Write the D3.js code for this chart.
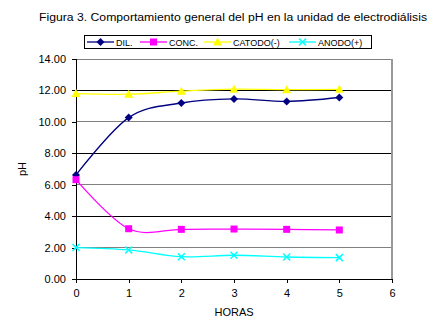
<!DOCTYPE html>
<html><head><meta charset="utf-8">
<script src="https://cdn.jsdelivr.net/npm/d3@7"></script>
<style>body{margin:0;background:#fff}svg{display:block;font-family:"Liberation Sans",Arial,sans-serif}</style>
</head><body><svg id="c" width="435" height="318"></svg>
<script>
const horas = [0, 1, 2, 3, 4, 5];
const dil = [6.62, 10.27, 11.2, 11.46, 11.3, 11.55];
const conc = [6.32, 3.2, 3.16, 3.18, 3.16, 3.12];
const catodo = [11.8, 11.76, 11.95, 12.08, 12.05, 12.07];
const anodo = [2.0, 1.85, 1.42, 1.51, 1.4, 1.36];
const xTicks = [0, 1, 2, 3, 4, 5, 6];
const yTicks = [0, 2, 4, 6, 8, 10, 12, 14];
const seriesNames = ["DIL.", "CONC.", "CATODO(-)", "ANODO(+)"];
const title = "Figura 3. Comportamiento general del pH en la unidad de electrodiálisis";

const series = [
  {name: seriesNames[0], values: dil, color: "#000080", marker: "diamond"},
  {name: seriesNames[1], values: conc, color: "#FF00FF", marker: "square"},
  {name: seriesNames[2], values: catodo, color: "#FFFF00", marker: "triangle"},
  {name: seriesNames[3], values: anodo, color: "#00FFFF", marker: "x"}
];

const svg = d3.select("#c");
const L = 76, R = 392, T = 59, B = 279;
const x = d3.scaleLinear().domain([0, 6]).range([L, R]);
const y = d3.scaleLinear().domain([0, 14]).range([B, T]);

svg.append("text").attr("x", 233).attr("y", 21).attr("text-anchor", "middle")
  .attr("font-size", 10).attr("textLength", 388).attr("lengthAdjust", "spacingAndGlyphs").text(title);

// grid
svg.append("g").selectAll("line").data(yTicks.filter(d => d > 0)).join("line")
  .attr("x1", L).attr("x2", R).attr("y1", d => y(d)).attr("y2", d => y(d))
  .attr("stroke", d => (d % 4 === 0) ? "#000" : "#808080").attr("stroke-width", 1)
  .attr("shape-rendering", "crispEdges");
// right border
svg.append("line").attr("x1", R).attr("x2", R).attr("y1", T).attr("y2", B)
  .attr("stroke", "#999").attr("stroke-width", 2);

const yAxis = d3.axisLeft(y).tickValues(yTicks).tickFormat(d3.format(".2f")).tickSize(4).tickPadding(6);
const gy = svg.append("g").attr("transform", `translate(${L},0)`).call(yAxis);
const xAxis = d3.axisBottom(x).tickValues(xTicks).tickFormat(d3.format("d")).tickSize(4).tickPadding(6);
const gx = svg.append("g").attr("transform", `translate(0,${B})`).call(xAxis);
[gy, gx].forEach(g => {
  g.select(".domain").attr("stroke", "#000").attr("shape-rendering", "crispEdges");
  g.selectAll(".tick line").attr("stroke", "#000").attr("shape-rendering", "crispEdges");
  g.selectAll("text").attr("font-size", 11).attr("fill", "#000").attr("font-family", '"Liberation Sans",Arial,sans-serif');
});
gx.select(".domain").attr("d", `M${L},0H${R}`);
gy.select(".domain").attr("d", `M0,${T}V${B}`);

svg.append("text").attr("x", 234).attr("y", 316).attr("text-anchor", "middle").attr("font-size", 11).text("HORAS");
svg.append("text").attr("transform", `translate(26,169) rotate(-90)`).attr("text-anchor", "middle").attr("font-size", 11).text("pH");

function drawMarker(g, type, cx, cy, color) {
  if (type === "diamond") {
    g.append("path").attr("d", `M${cx},${cy-4}L${cx+4},${cy}L${cx},${cy+4}L${cx-4},${cy}Z`).attr("fill", color);
  } else if (type === "square") {
    g.append("rect").attr("x", cx-3.5).attr("y", cy-3.5).attr("width", 7).attr("height", 7).attr("fill", color);
  } else if (type === "triangle") {
    g.append("path").attr("d", `M${cx},${cy-4.5}L${cx+4.5},${cy+3.5}L${cx-4.5},${cy+3.5}Z`).attr("fill", color);
  } else {
    g.append("path").attr("d", `M${cx-3.5},${cy-3.5}L${cx+3.5},${cy+3.5}M${cx+3.5},${cy-3.5}L${cx-3.5},${cy+3.5}`)
      .attr("stroke", color).attr("stroke-width", 1.5).attr("fill", "none");
  }
}

const line = d3.line().x((d, i) => x(horas[i])).y(d => y(d)).curve(d3.curveCatmullRom.alpha(0));
series.forEach(s => {
  const g = svg.append("g");
  g.append("path").attr("d", line(s.values)).attr("fill", "none").attr("stroke", s.color).attr("stroke-width", 1.3);
  s.values.forEach((v, i) => drawMarker(g, s.marker, x(horas[i]), y(v), s.color));
});

// legend
const lg = svg.append("g");
lg.append("rect").attr("x", 84.5).attr("y", 35.5).attr("width", 287).attr("height", 13)
  .attr("fill", "#fff").attr("stroke", "#000").attr("stroke-width", 1);
const lx = [87, 140, 204, 289];
series.forEach((s, i) => {
  lg.append("line").attr("x1", lx[i]).attr("x2", lx[i] + 27).attr("y1", 42).attr("y2", 42)
    .attr("stroke", s.color).attr("stroke-width", 1.3);
  drawMarker(lg, s.marker, lx[i] + 13.5, 42, s.color);
  lg.append("text").attr("x", lx[i] + 29).attr("y", 45.5).attr("font-size", 9).text(s.name);
});
</script></body></html>
